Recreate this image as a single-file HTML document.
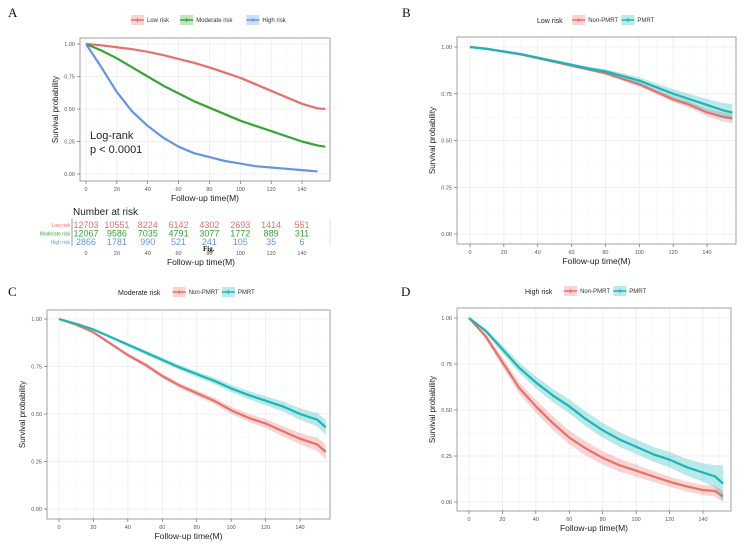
<!DOCTYPE html>
<html><head><meta charset="utf-8">
<style>
html,body{margin:0;padding:0;background:#fff;}
svg{display:block;font-family:"Liberation Sans",sans-serif;}
</style></head>
<body>
<svg id="fig" width="744" height="545" viewBox="0 0 744 545"></svg>
<script>
// ---- data ----
const monthsA = [0,10,20,30,40,50,60,70,80,90,100,110,120,130,140,150,155];
const aLow  = [1,0.99,0.975,0.96,0.94,0.915,0.885,0.855,0.82,0.78,0.74,0.69,0.64,0.59,0.54,0.505,0.50];
const aMod  = [1,0.95,0.89,0.82,0.75,0.68,0.62,0.56,0.51,0.46,0.41,0.37,0.33,0.29,0.25,0.22,0.21];
const monthsAH = [0,10,20,30,40,50,60,70,80,90,100,110,120,130,140,150];
const aHigh = [1,0.82,0.63,0.48,0.37,0.28,0.21,0.16,0.13,0.10,0.08,0.06,0.05,0.04,0.03,0.02];

const monthsB = [0,10,20,30,40,50,60,70,80,90,100,110,120,130,140,150,155];
const bNon  = [1,0.99,0.975,0.96,0.94,0.92,0.90,0.88,0.86,0.83,0.80,0.76,0.72,0.69,0.65,0.625,0.62];
const bPm   = [1,0.99,0.976,0.962,0.943,0.924,0.905,0.885,0.87,0.845,0.82,0.785,0.75,0.72,0.69,0.66,0.65];
const bNonCI= [0,0,0.003,0.004,0.005,0.006,0.007,0.008,0.009,0.01,0.012,0.013,0.015,0.017,0.02,0.025,0.03];
const bPmCI = [0,0,0.004,0.005,0.006,0.007,0.008,0.01,0.012,0.015,0.018,0.02,0.025,0.028,0.032,0.04,0.045];

const monthsC = [0,10,20,30,40,50,60,70,80,90,100,110,120,130,140,150,155];
const cNon  = [1,0.97,0.93,0.87,0.81,0.76,0.70,0.65,0.61,0.57,0.52,0.48,0.45,0.41,0.37,0.34,0.30];
const cPm   = [1,0.975,0.945,0.905,0.865,0.825,0.785,0.745,0.71,0.675,0.635,0.60,0.57,0.54,0.50,0.47,0.43];
const cNonCI= [0,0.003,0.005,0.007,0.009,0.011,0.012,0.013,0.015,0.017,0.019,0.021,0.024,0.027,0.03,0.035,0.04];
const cPmCI = [0,0.003,0.005,0.007,0.009,0.011,0.012,0.013,0.015,0.017,0.019,0.021,0.024,0.027,0.03,0.035,0.04];

const monthsD = [0,10,20,30,40,50,60,70,80,90,100,110,120,130,140,147,152];
const dNon  = [1,0.90,0.76,0.62,0.52,0.43,0.35,0.29,0.24,0.20,0.17,0.14,0.11,0.085,0.065,0.06,0.03];
const dPm   = [1,0.93,0.83,0.73,0.65,0.58,0.52,0.45,0.39,0.34,0.30,0.26,0.23,0.19,0.16,0.14,0.10];
const dNonCI= [0,0.015,0.025,0.03,0.035,0.037,0.038,0.038,0.037,0.035,0.033,0.03,0.028,0.027,0.027,0.03,0.03];
const dPmCI = [0,0.012,0.022,0.028,0.033,0.036,0.038,0.04,0.04,0.04,0.04,0.04,0.042,0.045,0.05,0.06,0.1];

const riskTicks = [0,20,40,60,80,100,120,140];
const riskLow  = [12703,10551,8224,6142,4302,2693,1414,551];
const riskMod  = [12067,9586,7035,4791,3077,1772,889,311];
const riskHigh = [2866,1781,990,521,241,105,35,6];
const yTicks = [0,0.25,0.5,0.75,1];
const xTicks = [0,20,40,60,80,100,120,140];

const svg = document.getElementById('fig');
const NS = 'http://www.w3.org/2000/svg';
function mk(tag, attrs, parent, text){
  const e = document.createElementNS(NS, tag);
  for (const k in attrs) e.setAttribute(k, attrs[k]);
  if (text !== undefined) e.textContent = text;
  (parent || svg).appendChild(e);
  return e;
}

function panel(p){
  const g = mk('g', {});
  
  
  const sx = m => p.x0 + (p.x140 - p.x0) * m / 140;
  const sy = v => p.y0 + (p.y1 - p.y0) * v;
  const bg = mk('rect', {x:p.L, y:p.T, width:p.R-p.L, height:p.B-p.T, fill:'#fff'}, g);
  
  
  for (let i = 0; i < xTicks.length; i++) {
    const m = xTicks[i];
    mk('line', {x1:sx(m), x2:sx(m), y1:p.T, y2:p.B, stroke:'#ebebeb', 'stroke-width':0.8}, g);
    mk('line', {x1:sx(m+10), x2:sx(m+10), y1:p.T, y2:p.B, stroke:'#f4f4f4', 'stroke-width':0.5}, g);
  }
  for (let i = 0; i < yTicks.length; i++) {
    const v = yTicks[i];
    mk('line', {x1:p.L, x2:p.R, y1:sy(v), y2:sy(v), stroke:'#ebebeb', 'stroke-width':0.8}, g);
    if (v < 1) mk('line', {x1:p.L, x2:p.R, y1:sy(v+0.125), y2:sy(v+0.125), stroke:'#f4f4f4', 'stroke-width':0.5}, g);
  }
  p.series.forEach(s => {
    if (s.ci) {
      let d = '';
      for (let i = 0; i < s.xs.length; i++)
        d += (i ? 'L' : 'M') + sx(s.xs[i]) + ',' + sy(Math.min(1, s.ys[i] + s.ci[i]));
      for (let i = s.xs.length - 1; i >= 0; i--)
        d += 'L' + sx(s.xs[i]) + ',' + sy(Math.max(0, s.ys[i] - s.ci[i]));
      const band = mk('path', {d: d + 'Z', fill:s.color, 'fill-opacity':0.3, stroke:'none'}, g);
      
      
    }
    let d = '';
    for (let i = 0; i < s.xs.length; i++)
      d += (i ? 'L' : 'M') + sx(s.xs[i]) + ',' + sy(s.ys[i]);
    const line = mk('path', {d:d, fill:'none', stroke:s.color, 'stroke-width':2.2, 'stroke-linejoin':'round'}, g);
    
    
  });
  mk('rect', {x:p.L, y:p.T, width:p.R-p.L, height:p.B-p.T, fill:'none', stroke:'#8a8a8a', 'stroke-width':0.8}, g);
  yTicks.forEach(v => {
    mk('line', {x1:p.L-3, x2:p.L, y1:sy(v), y2:sy(v), stroke:'#555', 'stroke-width':0.6}, g);
    const t = mk('text', {x:p.L-5, y:sy(v)+2, 'font-size':5.5, fill:'#555', 'text-anchor':'end'}, g, v.toFixed(2));
    
    
  });
  xTicks.forEach(m => {
    mk('line', {x1:sx(m), x2:sx(m), y1:p.B, y2:p.B+3, stroke:'#555', 'stroke-width':0.6}, g);
    const t = mk('text', {x:sx(m), y:p.B+10, 'font-size':5.5, fill:'#555', 'text-anchor':'middle'}, g, String(m));
    
    
  });
  const xt = mk('text', {x:(p.L+p.R)/2, y:p.B+20, 'font-size':8.5, fill:'#222', 'text-anchor':'middle'}, g, 'Follow-up time(M)');
  
  
  const yx = p.L - 22, yy = (p.T + p.B) / 2;
  const yt = mk('text', {x:yx, y:yy, 'font-size':8, fill:'#222', 'text-anchor':'middle', transform:'rotate(-90 '+yx+' '+yy+')'}, g, 'Survival probability');
  
  
  const lt = mk('text', {x:p.letterX, y:p.letterY, 'font-size':13, fill:'#111', 'font-family':'Liberation Serif,serif'}, g, p.letter);
  
  
  let lx = p.legX;
  const ly = p.legY;
  if (p.legTitle) {
    const tt = mk('text', {x:lx, y:ly+3, 'font-size':7, fill:'#222'}, g, p.legTitle);
    
    
    lx += p.legTitle.length * 3.9 + 4;
  }
  p.series.forEach(s => {
    const le = mk('g', {}, g);
    
    
    mk('rect', {x:lx, y:ly-5, width:13, height:10, fill:s.color, 'fill-opacity':0.3}, le);
    mk('line', {x1:lx, x2:lx+13, y1:ly, y2:ly, stroke:s.color, 'stroke-width':1.5}, le);
    mk('line', {x1:lx+6.5, x2:lx+6.5, y1:ly-2, y2:ly+2, stroke:s.color, 'stroke-width':1}, le);
    mk('text', {x:lx+16, y:ly+2, 'font-size':6, fill:'#333'}, le, s.label);
    lx += 16 + s.label.length * 3.4 + 6;
  });
  return {sx: sx, g: g};
}

const RED = '#e8706a', GREEN = '#36a436', BLUE = '#6494e4', TEAL = '#1bb5b5';

const A = panel({name:'panel-a', L:80, R:330, T:38, B:181, x0:86, x140:302, y0:174, y1:44,
  letter:'A', letterX:8, letterY:17, legX:131, legY:20, legTitle:null,
  series:[
    {key:'low-risk', label:'Low risk', color:RED, xs:monthsA, ys:aLow},
    {key:'moderate-risk', label:'Moderate risk', color:GREEN, xs:monthsA, ys:aMod},
    {key:'high-risk', label:'High risk', color:BLUE, xs:monthsAH, ys:aHigh}
  ]});
const lr = mk('text', {x:90, y:139, 'font-size':11, fill:'#222'}, A.g, 'Log-rank');


const pv = mk('text', {x:90, y:153, 'font-size':11, fill:'#222'}, A.g, 'p < 0.0001');



const rt = mk('g', {});


const nar = mk('text', {x:73, y:215, 'font-size':10, fill:'#222'}, rt, 'Number at risk');


mk('line', {x1:72, x2:72, y1:219, y2:246, stroke:'#555', 'stroke-width':0.6}, rt);
mk('line', {x1:330, x2:330, y1:219, y2:246, stroke:'#ccc', 'stroke-width':0.6}, rt);
const rows = [['Low risk', riskLow, RED, 228], ['Moderate risk', riskMod, GREEN, 236.5], ['High risk', riskHigh, BLUE, 245]];
rows.forEach(r => {
  const lab = mk('text', {x:70, y:r[3]-1, 'font-size':5, fill:r[2], 'text-anchor':'end'}, rt, r[0]);
  
  
  r[1].forEach((n, i) => {
    const t = mk('text', {x:A.sx(riskTicks[i]), y:r[3], 'font-size':9, fill:r[2], 'text-anchor':'middle'}, rt, String(n));
    
    
  });
});
riskTicks.forEach(m => {
  const t = mk('text', {x:A.sx(m), y:255, 'font-size':5.5, fill:'#555', 'text-anchor':'middle'}, rt, String(m));
  
  
});
mk('text', {x:203, y:251, 'font-size':7, fill:'#111', 'font-weight':'bold', 'font-family':'Liberation Serif,serif'}, rt, 'Fig.');
const rxt = mk('text', {x:201, y:265, 'font-size':8.5, fill:'#222', 'text-anchor':'middle'}, rt, 'Follow-up time(M)');



panel({name:'panel-b', L:457, R:736, T:37, B:244, x0:470, x140:707, y0:234, y1:47,
  letter:'B', letterX:402, letterY:17, legX:537, legY:20, legTitle:'Low risk',
  series:[
    {key:'non-pmrt', label:'Non-PMRT', color:RED, xs:monthsB, ys:bNon, ci:bNonCI},
    {key:'pmrt', label:'PMRT', color:TEAL, xs:monthsB, ys:bPm, ci:bPmCI}
  ]});
panel({name:'panel-c', L:47, R:330, T:310, B:519, x0:59, x140:300, y0:509, y1:319,
  letter:'C', letterX:8, letterY:296, legX:118, legY:292, legTitle:'Moderate risk',
  series:[
    {key:'non-pmrt', label:'Non-PMRT', color:RED, xs:monthsC, ys:cNon, ci:cNonCI},
    {key:'pmrt', label:'PMRT', color:TEAL, xs:monthsC, ys:cPm, ci:cPmCI}
  ]});
panel({name:'panel-d', L:457, R:731, T:308, B:511, x0:469, x140:703, y0:502, y1:318,
  letter:'D', letterX:401, letterY:296, legX:525, legY:291, legTitle:'High risk',
  series:[
    {key:'non-pmrt', label:'Non-PMRT', color:RED, xs:monthsD, ys:dNon, ci:dNonCI},
    {key:'pmrt', label:'PMRT', color:TEAL, xs:monthsD, ys:dPm, ci:dPmCI}
  ]});
</script>
</body></html>
